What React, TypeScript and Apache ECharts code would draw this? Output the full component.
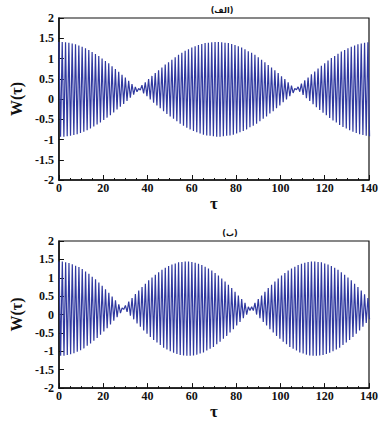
import React, { useEffect, useRef } from 'react';
import * as echarts from 'echarts';

// Carrier period (τ units) read from the stripe spacing
const PERIOD = 1.5;

// Panel (الف): peak (upper) and trough (lower) values of each cycle
const topUpper = [
  1.41, 1.41, 1.40, 1.39, 1.37, 1.35, 1.32, 1.29, 1.25, 1.21, 1.16, 1.11, 1.06, 1.00, 0.94, 0.88,
  0.81, 0.74, 0.67, 0.60, 0.53, 0.45, 0.37, 0.30, 0.26, 0.34, 0.41, 0.49, 0.57, 0.64, 0.71, 0.78,
  0.85, 0.91, 0.97, 1.03, 1.09, 1.14, 1.19, 1.23, 1.27, 1.30, 1.33, 1.36, 1.38, 1.39, 1.40, 1.41,
  1.41, 1.40, 1.39, 1.38, 1.36, 1.33, 1.30, 1.27, 1.23, 1.18, 1.14, 1.09, 1.03, 0.97, 0.91, 0.84,
  0.78, 0.71, 0.64, 0.56, 0.49, 0.41, 0.33, 0.26, 0.30, 0.38, 0.46, 0.53, 0.61, 0.68, 0.75, 0.82,
  0.88, 0.95, 1.01, 1.06, 1.12, 1.17, 1.21, 1.25, 1.29, 1.32, 1.35, 1.37, 1.39, 1.40,
];
const topLower = [
  -0.93, -0.93, -0.92, -0.91, -0.89, -0.87, -0.84, -0.81, -0.77, -0.73, -0.68, -0.63, -0.58, -0.52, -0.46, -0.40,
  -0.33, -0.26, -0.19, -0.12, -0.05, 0.03, 0.11, 0.18, 0.22, 0.14, 0.07, -0.01, -0.09, -0.16, -0.23, -0.30,
  -0.37, -0.43, -0.49, -0.55, -0.61, -0.66, -0.71, -0.75, -0.79, -0.82, -0.85, -0.88, -0.90, -0.91, -0.92, -0.93,
  -0.93, -0.92, -0.91, -0.90, -0.88, -0.85, -0.82, -0.79, -0.75, -0.70, -0.66, -0.61, -0.55, -0.49, -0.43, -0.36,
  -0.30, -0.23, -0.16, -0.08, -0.01, 0.07, 0.15, 0.23, 0.18, 0.10, 0.02, -0.05, -0.13, -0.20, -0.27, -0.34,
  -0.40, -0.47, -0.53, -0.58, -0.64, -0.69, -0.73, -0.77, -0.81, -0.84, -0.87, -0.89, -0.91, -0.92,
];

// Panel (ب): peak (upper) and trough (lower) values of each cycle
const botUpper = [
  1.44, 1.44, 1.42, 1.40, 1.37, 1.33, 1.29, 1.24, 1.17, 1.11, 1.03, 0.96, 0.87, 0.78, 0.69, 0.59,
  0.49, 0.39, 0.28, 0.18, 0.25, 0.35, 0.45, 0.56, 0.65, 0.75, 0.84, 0.93, 1.01, 1.08, 1.15, 1.22,
  1.27, 1.32, 1.36, 1.39, 1.42, 1.43, 1.44, 1.44, 1.43, 1.41, 1.38, 1.35, 1.30, 1.25, 1.20, 1.13,
  1.06, 0.98, 0.90, 0.81, 0.72, 0.62, 0.52, 0.42, 0.32, 0.21, 0.21, 0.32, 0.42, 0.52, 0.62, 0.72,
  0.81, 0.90, 0.98, 1.06, 1.13, 1.20, 1.25, 1.30, 1.35, 1.38, 1.41, 1.43, 1.44, 1.44, 1.43, 1.42,
  1.39, 1.36, 1.32, 1.27, 1.22, 1.15, 1.08, 1.01, 0.93, 0.84, 0.75, 0.65, 0.55, 0.45,
];
const botLower = [
  -1.12, -1.12, -1.10, -1.08, -1.05, -1.01, -0.97, -0.92, -0.85, -0.79, -0.71, -0.64, -0.55, -0.46, -0.37, -0.27,
  -0.17, -0.07, 0.04, 0.14, 0.07, -0.03, -0.13, -0.24, -0.33, -0.43, -0.52, -0.61, -0.69, -0.76, -0.83, -0.90,
  -0.95, -1.00, -1.04, -1.07, -1.10, -1.11, -1.12, -1.12, -1.11, -1.09, -1.06, -1.03, -0.98, -0.93, -0.88, -0.81,
  -0.74, -0.66, -0.58, -0.49, -0.40, -0.30, -0.20, -0.10, 0.00, 0.11, 0.11, 0.00, -0.10, -0.20, -0.30, -0.40,
  -0.49, -0.58, -0.66, -0.74, -0.81, -0.88, -0.93, -0.98, -1.03, -1.06, -1.09, -1.11, -1.12, -1.12, -1.11, -1.10,
  -1.07, -1.04, -1.00, -0.95, -0.90, -0.83, -0.76, -0.69, -0.61, -0.52, -0.43, -0.33, -0.23, -0.13,
];

const titles = ['(الف)', '(ب)'];
const X_MIN = 0, X_MAX = 140, X_STEP = 20;
const Y_MIN = -2, Y_MAX = 2, Y_STEP = 0.5;

function zigzag(up: number[], lo: number[]) {
  const pts: [number, number][] = [];
  for (let i = 0; i < up.length; i++) {
    pts.push([i * PERIOD, up[i]]);
    pts.push([i * PERIOD + PERIOD / 2, lo[i]]);
  }
  return pts;
}

const FONT = 'Liberation Serif';
const INK = '#111';
const LINE = '#3039a0';

function xAxis(gridIndex: number) {
  return {
    type: 'value', gridIndex, min: X_MIN, max: X_MAX, interval: X_STEP,
    axisLine: { show: true, onZero: false, lineStyle: { color: INK, width: 1.5 } },
    axisTick: { show: true, inside: true, length: 5, lineStyle: { color: INK, width: 1 } },
    minorTick: { show: true, splitNumber: 4, length: 2, lineStyle: { color: INK } },
    splitLine: { show: false },
    axisLabel: { color: INK, fontFamily: FONT, fontWeight: 'bold', fontSize: 12, margin: 2 },
    name: 'τ', nameLocation: 'middle', nameGap: 13,
    nameTextStyle: { color: INK, fontFamily: FONT, fontWeight: 'bold', fontSize: 17 },
  };
}
function yAxis(gridIndex: number) {
  return {
    type: 'value', gridIndex, min: Y_MIN, max: Y_MAX, interval: Y_STEP,
    axisLine: { show: true, onZero: false, lineStyle: { color: INK, width: 1.5 } },
    axisTick: { show: true, inside: true, length: 5, lineStyle: { color: INK, width: 1 } },
    splitLine: { show: false },
    axisLabel: { color: INK, fontFamily: FONT, fontWeight: 'bold', fontSize: 12, margin: 5 },
    name: 'W(τ)', nameLocation: 'middle', nameGap: 34,
    nameTextStyle: { color: INK, fontFamily: FONT, fontWeight: 'bold', fontSize: 16 },
  };
}

export default function App() {
  const ref = useRef<HTMLDivElement>(null);
  useEffect(() => {
    const chart = echarts.init(ref.current!, null, { renderer: 'svg' });
    chart.setOption({
      animation: false,
      backgroundColor: '#fff',
      grid: [
        { left: 58, top: 18, width: 313, height: 162, show: true, borderColor: INK, borderWidth: 1.2 },
        { left: 59, top: 241, width: 315, height: 162, show: true, borderColor: INK, borderWidth: 1.2 },
      ],
      xAxis: [xAxis(0), xAxis(1)],
      yAxis: [yAxis(0), yAxis(1)],
      graphic: [
        { type: 'text', x: 222, y: 10, style: { text: titles[0], textAlign: 'center', textVerticalAlign: 'middle', font: 'bold 8px "DejaVu Sans"', fill: INK } },
        { type: 'text', x: 230, y: 233, style: { text: titles[1], textAlign: 'center', textVerticalAlign: 'middle', font: 'bold 8px "DejaVu Sans"', fill: INK } },
      ],
      series: [
        { type: 'line', xAxisIndex: 0, yAxisIndex: 0, data: zigzag(topUpper, topLower), showSymbol: false, silent: true, lineStyle: { color: LINE, width: 1.2 } },
        { type: 'line', xAxisIndex: 1, yAxisIndex: 1, data: zigzag(botUpper, botLower), showSymbol: false, silent: true, lineStyle: { color: LINE, width: 1.2 } },
      ],
    });
    return () => chart.dispose();
  }, []);
  return <div ref={ref} style={{ position: 'absolute', left: 0, top: 0, width: 381, height: 421 }} />;
}
